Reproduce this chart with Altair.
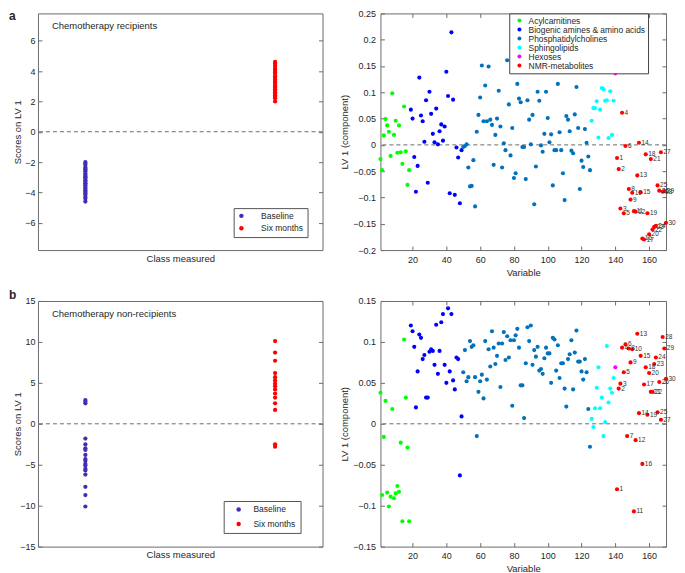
import altair as alt
import pandas as pd

FONT = "Liberation Sans"
INK = "#262626"
FRAME = "#6b6b6b"

# ---------------- left panels: scores on LV 1 ----------------
GROUPS = ["Baseline", "Six months"]
GROUP_COLORS = ["#3f2fb5", "#ff0000"]
GROUP_X = [1, 2]

A_BASELINE = [-2.0, -2.1, -2.2, -2.35, -2.45, -2.5, -2.6, -2.75, -2.85, -2.95, -3.0, -3.1, -3.2,
              -3.3, -3.4, -3.45, -3.55, -3.65, -3.75, -3.85, -3.95, -4.05, -4.15, -4.3, -4.4, -4.6]
A_SIXMONTHS = [4.6, 4.5, 4.35, 4.2, 4.1, 4.0, 3.9, 3.8, 3.65, 3.55, 3.45, 3.35, 3.25, 3.1, 3.0,
               2.9, 2.8, 2.7, 2.6, 2.5, 2.4, 2.3, 2.2, 2.0]
B_BASELINE = [2.9, 2.7, 2.5, -1.8, -2.5, -3.0, -3.2, -3.8, -4.3, -4.5, -4.9, -5.1, -5.5, -5.7,
              -6.2, -7.7, -8.7, -10.1]
B_SIXMONTHS = [10.1, 8.7, 7.7, 6.2, 5.7, 5.3, 4.9, 4.6, 4.2, 3.7, 3.2, 2.5, 1.7, -2.5, -2.8]

# ---------------- right panels: LV 1 loadings ----------------
CLASSES = ["Acylcarnitines", "Biogenic amines & amino acids", "Phosphatidylcholines",
           "Sphingolipids", "Hexoses", "NMR-metabolites"]
CLASS_COLORS = ["#00ff00", "#0000ff", "#0072bd", "#00ffff", "#ff00ff", "#ff0000"]
CLASS_FIRST_VAR = [1, 19, 50, 126, 140, 141]

A_ACYL = [-0.027, -0.048, 0.018, 0.049, 0.037, 0.025, -0.021, 0.098, 0.019, 0.046, -0.015, 0.037,
          -0.014, -0.036, 0.073, -0.012, -0.076, -0.048]
A_BIO = [0.067, 0.050, -0.023, -0.089, -0.040, 0.128, 0.056, 0.045, 0.006, 0.085, -0.072, 0.101,
         0.059, 0.021, 0.005, 0.069, 0.001, 0.026, 0.039, 0.008, 0.035, 0.139, 0.093, -0.092,
         0.214, 0.086, -0.095, -0.005, -0.024, -0.111, -0.010]
A_PC = [-0.004, -0.002, 0.001, -0.043, -0.079, -0.078, -0.029, -0.117, 0.025, 0.057,
        0.090, 0.151, 0.045, 0.113, 0.045, 0.149, 0.048, 0.038, -0.038, 0.019,
        0.050, 0.103, 0.035, -0.043, 0.003, -0.010, 0.161, 0.077, -0.020, 0.032,
        -0.063, -0.054, 0.116, 0.088, 0.081, -0.004, -0.004, -0.065, 0.085, 0.048,
        0.001, 0.057, -0.113, -0.041, 0.101, 0.084, -0.001, -0.013, 0.021, 0.101,
        0.051, 0.005, 0.020, -0.077, -0.010, -0.010, 0.116, 0.024, -0.010, -0.054,
        -0.105, 0.055, 0.048, 0.026, -0.011, -0.016, 0.058, 0.110, 0.032, -0.084,
        -0.030, -0.042, 0.030, 0.004, -0.022, -0.048]
A_SL = [0.046, 0.070, 0.070, 0.083, 0.014, 0.067, 0.108, 0.106, 0.084, 0.085, 0.013, 0.102,
        0.019, 0.084]
A_HEX = [0.136]
A_NMR = [-0.025, -0.046, -0.121, 0.061, -0.130, -0.002, 0.142, -0.084, -0.104, -0.091, -0.126,
         -0.127, -0.058, 0.004, -0.090, -0.178, -0.180, -0.018, -0.130, -0.170, -0.027, -0.161,
         -0.156, -0.154, -0.077, -0.087, -0.014, -0.089, -0.088, -0.148]

B_ACYL = [0.038, -0.087, -0.016, 0.028, -0.084, -0.101, -0.089, 0.018, -0.091, -0.085, -0.076,
          -0.083, -0.023, -0.119, 0.103, 0.032, -0.029, -0.119]
B_BIO = [0.120, 0.113, 0.094, 0.020, 0.064, 0.109, 0.105, 0.079, 0.084, 0.032, 0.032, 0.088,
         0.091, 0.089, 0.072, 0.121, 0.061, 0.089, 0.124, 0.134, 0.072, 0.050, 0.141, 0.064,
         0.134, 0.053, 0.042, 0.081, 0.079, -0.063, 0.009]
B_PC = [0.063, 0.090, 0.052, 0.057, 0.101, 0.094, 0.096, 0.057, -0.015, 0.039,
        0.052, 0.060, 0.031, 0.101, 0.054, 0.091, 0.070, 0.113, 0.093, 0.073,
        0.083, 0.098, 0.045, 0.098, 0.112, 0.078, 0.107, 0.081, 0.102, 0.022,
        0.102, 0.108, 0.116, 0.093, 0.047, 0.047, 0.007, 0.074, 0.118, 0.101,
        0.120, 0.072, 0.090, 0.082, 0.094, 0.065, 0.067, 0.061, 0.080, 0.093,
        0.086, 0.086, 0.050, 0.105, 0.103, 0.065, 0.096, 0.056, 0.074, 0.074,
        0.043, 0.021, 0.079, 0.085, 0.102, 0.042, 0.087, 0.114, 0.076, 0.076,
        0.064, 0.054, 0.079, 0.063, 0.018, -0.028]
B_SL = [0.006, -0.004, 0.019, 0.044, 0.069, 0.019, 0.032, -0.015, 0.002, 0.095, 0.026, 0.043,
        0.038, 0.056]
B_HEX = [0.069]
B_NMR = [-0.080, 0.043, 0.049, 0.093, 0.063, 0.097, -0.015, 0.092, 0.075, 0.091, -0.107,
         -0.020, 0.110, 0.013, 0.083, -0.049, 0.048, 0.069, 0.011, 0.062, 0.039, 0.039, 0.073,
         0.081, 0.014, 0.051, 0.005, 0.106, 0.092, 0.055]

A_YTICKS = [-6, -4, -2, 0, 2, 4, 6]
B_YTICKS = [-15, -10, -5, 0, 5, 10, 15]
RA_YTICKS = [-0.2, -0.15, -0.1, -0.05, 0, 0.05, 0.1, 0.15, 0.2, 0.25]
RB_YTICKS = [-0.15, -0.1, -0.05, 0, 0.05, 0.1, 0.15]
VAR_TICKS = [20, 40, 60, 80, 100, 120, 140, 160]

# the whole figure must fit in 669 px (685 window minus the page margins)
LEFT_W, RIGHT_W = 285, 286
TOP_H, BOT_H = 237, 246
ROW_GAP, COL_GAP = 51, 58
LEFT_EDGE = -29      # panel letter / y title position left of the left plots


def axis(orient, values=None, labels=True, title=None, **extra):
    kw = dict(orient=orient, domain=False, grid=False, ticks=True, tickSize=4, offset=-4,
              tickColor=FRAME, tickWidth=1, labels=labels, labelFont=FONT, labelFontSize=9,
              labelColor=INK, labelPadding=5, format=".2~f", titleFont=FONT, titleFontSize=9.5,
              titleFontWeight="normal", titleColor=INK, title=title, labelOverlap=False)
    if values is not None:
        kw["values"] = values
    kw.update(extra)
    return alt.Axis(**kw)


def text_layer(txt, x, y, size, weight="normal", baseline="middle"):
    return alt.Chart(pd.DataFrame({"t": [txt]})).mark_text(
        align="left", baseline=baseline, font=FONT, fontSize=size, fontWeight=weight, color=INK
    ).encode(text="t:N", x=alt.value(x), y=alt.value(y))


def zero_line(ys):
    return alt.Chart(pd.DataFrame({"z": [0]})).mark_rule(
        color="#6b6b6b", strokeDash=[4, 3], strokeWidth=1
    ).encode(y=alt.Y("z:Q", scale=ys, axis=None))


def score_panel(base, six, ydom, yticks, H, note, letters, leg):
    df = pd.DataFrame({
        "grp": [GROUPS[0]] * len(base) + [GROUPS[1]] * len(six),
        "gx": [GROUP_X[0]] * len(base) + [GROUP_X[1]] * len(six),
        "score": base + six,
    })
    xs = alt.Scale(domain=[0.75, 2.25], nice=False, zero=False)
    ys = alt.Scale(domain=ydom, nice=False, zero=False)
    legend = alt.Legend(
        title=None, orient="none", legendX=leg["x"], legendY=H - leg["inset"] - leg["h"],
        fillColor="white", strokeColor="#555555", padding=leg["pad"], rowPadding=leg["row"],
        symbolType="circle", symbolSize=20, symbolStrokeWidth=0, symbolOffset=leg["soff"],
        labelOffset=leg["loff"], labelFont=FONT, labelFontSize=8.5, labelColor=INK,
        labelExpr="datum.label + '" + " " * leg["spaces"] + "'")
    pts = alt.Chart(df).mark_circle(size=18, opacity=1).encode(
        x=alt.X("gx:Q", scale=xs, axis=alt.Axis(
            orient="bottom", labels=False, ticks=False, domain=False, grid=False,
            title="Class measured", titlePadding=3, titleFont=FONT, titleFontSize=9.5,
            titleFontWeight="normal", titleColor=INK)),
        y=alt.Y("score:Q", scale=ys, axis=axis(
            "left", yticks, title="Scores on LV 1", titleX=LEFT_EDGE + 9.3, titleAngle=270,
            titleBaseline="bottom", labelPadding=3)),
        color=alt.Color("grp:N", scale=alt.Scale(domain=GROUPS, range=GROUP_COLORS), legend=legend),
    )
    ghost = alt.Chart(df).mark_circle(opacity=0).encode(
        y=alt.Y("score:Q", scale=ys, axis=axis("right", yticks, labels=False)))
    layers = [zero_line(ys), pts, ghost, text_layer(note, 14, 13, 9.5)]
    for letter, ly in letters:
        layers.append(text_layer(letter, LEFT_EDGE, ly, 12, "bold", "top"))
    return alt.layer(*layers).resolve_axis(x="independent", y="independent").properties(
        width=LEFT_W, height=H)


def loadings(series):
    rows = []
    for cls, first, vals in zip(CLASSES, CLASS_FIRST_VAR, series):
        for i, v in enumerate(vals):
            lab = str(i + 1) if cls == "NMR-metabolites" else ""
            rows.append({"var": first + i, "lv": v, "cls": cls, "lab": lab})
    return pd.DataFrame(rows)


def loading_panel(series, ydom, yticks, H, show_legend):
    df = loadings(series)
    xs = alt.Scale(domain=[1, 170], nice=False, zero=False)
    ys = alt.Scale(domain=ydom, nice=False, zero=False)
    if show_legend:
        legend = alt.Legend(
            title=None, orient="none", legendX=129, legendY=0, fillColor="white",
            strokeColor="#444444", padding=3, rowPadding=0, symbolType="circle", symbolSize=16,
            symbolStrokeWidth=0, symbolOffset=3, labelOffset=5, labelFont=FONT,
            labelFontSize=8.4, labelColor=INK, labelLimit=400)
    else:
        legend = None
    color = alt.Color("cls:N", scale=alt.Scale(domain=CLASSES, range=CLASS_COLORS), legend=legend)
    pts = alt.Chart(df).mark_circle(size=17, opacity=1).encode(
        x=alt.X("var:Q", scale=xs, axis=axis("bottom", VAR_TICKS, title="Variable", titlePadding=3)),
        y=alt.Y("lv:Q", scale=ys, axis=axis(
            "left", yticks, title="LV 1 (component)", titleX=-34.5, titleAngle=270,
            titleBaseline="bottom")),
        color=color,
    )
    ghost = alt.Chart(df).mark_circle(opacity=0).encode(
        x=alt.X("var:Q", scale=xs, axis=axis("top", VAR_TICKS, labels=False)),
        y=alt.Y("lv:Q", scale=ys, axis=axis("right", yticks, labels=False)),
    )
    labels = alt.Chart(df).transform_filter("datum.lab != ''").mark_text(
        align="left", baseline="middle", dx=2.5, font=FONT, fontSize=6.5, color="#333333"
    ).encode(
        x=alt.X("var:Q", scale=xs, axis=None),
        y=alt.Y("lv:Q", scale=ys, axis=None),
        text="lab:N",
    )
    return alt.layer(zero_line(ys), pts, labels, ghost).resolve_axis(
        x="independent", y="independent").properties(width=RIGHT_W, height=H)


# panel letters: "b" is drawn from the top-left view so that it does not push the grid down
left_a = score_panel(A_BASELINE, A_SIXMONTHS, [-7.8, 7.8], A_YTICKS, TOP_H,
                     "Chemotherapy recipients", [("a", -2), ("b", TOP_H + ROW_GAP - 11)],
                     dict(x=196, inset=15, h=27, pad=3.5, row=3.5, soff=0, loff=15.5, spaces=7))
left_b = score_panel(B_BASELINE, B_SIXMONTHS, [-15, 15], B_YTICKS, BOT_H,
                     "Chemotherapy non-recipients", [],
                     dict(x=186, inset=14.7, h=31, pad=4.25, row=5.5, soff=6.5, loff=10.5, spaces=14))
right_a = loading_panel([A_ACYL, A_BIO, A_PC, A_SL, A_HEX, A_NMR], [-0.2, 0.25], RA_YTICKS, TOP_H, True)
right_b = loading_panel([B_ACYL, B_BIO, B_PC, B_SL, B_HEX, B_NMR], [-0.15, 0.15], RB_YTICKS, BOT_H, False)

chart = alt.concat(
    left_a, right_a, left_b, right_b, columns=2, bounds="flush",
    spacing={"row": ROW_GAP, "column": COL_GAP},
).resolve_scale(color="independent").resolve_legend(color="independent").properties(
    padding=0).configure(font=FONT).configure_view(stroke=FRAME, strokeWidth=1)

chart.save("out.html", embed_options={"renderer": "svg", "actions": False})
